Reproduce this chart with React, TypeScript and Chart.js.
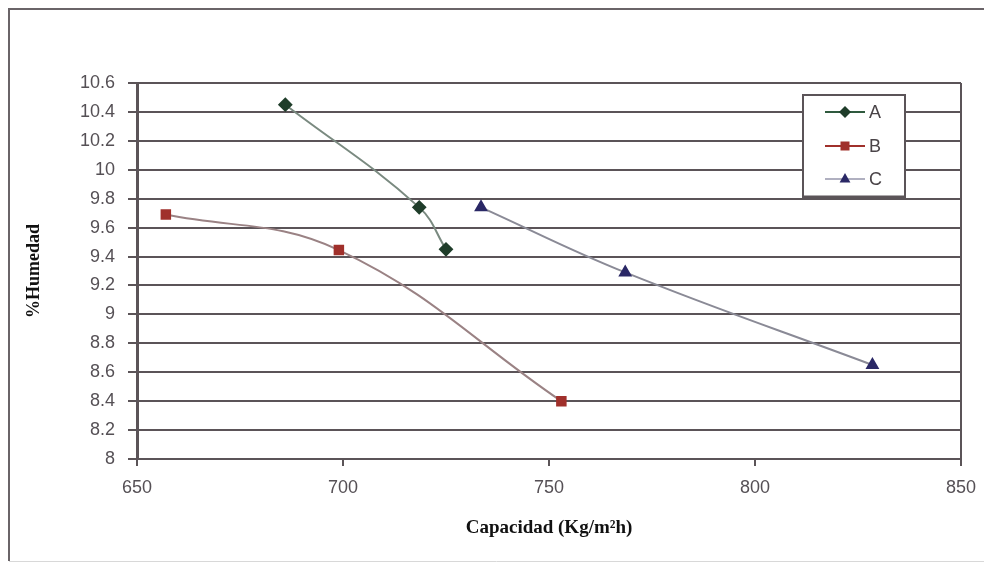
import React, { useEffect, useRef } from "react";
import { Chart, registerables } from "chart.js";

Chart.register(...registerables);

const seriesNames = ["A", "B", "C"];
const aCapacidad = [686, 718.5, 725];
const aHumedad = [10.45, 9.74, 9.45];
const bCapacidad = [657, 699, 753];
const bHumedad = [9.69, 9.445, 8.4];
const cCapacidad = [733.5, 768.5, 828.5];
const cHumedad = [9.74, 9.29, 8.65];
const xTicks = [650, 700, 750, 800, 850];
const yMin = 8;
const yMax = 10.6;
const yStep = 0.2;

const toPoints = (xs: number[], ys: number[]) => xs.map((x, i) => ({ x, y: ys[i] }));

const frameAndLegend = {
  id: "frameAndLegend",
  afterDraw(chart: any) {
    const ctx = chart.ctx;
    const a = chart.chartArea;
    ctx.save();
    // outer frame
    ctx.strokeStyle = "#6a6468";
    ctx.lineWidth = 2;
    ctx.beginPath();
    ctx.moveTo(9, 561);
    ctx.lineTo(9, 9);
    ctx.lineTo(984, 9);
    ctx.stroke();
    ctx.strokeStyle = "#d8d8d8";
    ctx.lineWidth = 1;
    ctx.beginPath();
    ctx.moveTo(9, 561.5);
    ctx.lineTo(984, 561.5);
    ctx.stroke();
    // right border of plot
    ctx.strokeStyle = "#5b5458";
    ctx.lineWidth = 2;
    ctx.beginPath();
    ctx.moveTo(a.right, a.top);
    ctx.lineTo(a.right, a.bottom + 6);
    ctx.stroke();
    // legend box
    const lx = 803, ly = 95, lw = 102, lh = 102;
    ctx.fillStyle = "#ffffff";
    ctx.fillRect(lx, ly, lw, lh);
    ctx.strokeStyle = "#5b5458";
    ctx.lineWidth = 2;
    ctx.strokeRect(lx, ly, lw, lh);
    ctx.lineWidth = 3;
    ctx.beginPath();
    ctx.moveTo(lx, ly + lh);
    ctx.lineTo(lx + lw, ly + lh);
    ctx.stroke();
    const rows = [112, 146, 179];
    chart.data.datasets.forEach((ds: any, i: number) => {
      const y = rows[i];
      ctx.strokeStyle = ds.legendLine;
      ctx.lineWidth = 2;
      ctx.beginPath();
      ctx.moveTo(825, y);
      ctx.lineTo(865, y);
      ctx.stroke();
      ctx.fillStyle = ds.pointBackgroundColor;
      const r = ds.pointRadius;
      ctx.beginPath();
      if (ds.pointStyle === "rectRot") {
        ctx.moveTo(845, y - r);
        ctx.lineTo(845 + r, y);
        ctx.lineTo(845, y + r);
        ctx.lineTo(845 - r, y);
      } else if (ds.pointStyle === "rect") {
        ctx.rect(845 - r * 0.75, y - r * 0.75, r * 1.5, r * 1.5);
      } else {
        ctx.moveTo(845, y - r);
        ctx.lineTo(845 + r * 0.9, y + r * 0.6);
        ctx.lineTo(845 - r * 0.9, y + r * 0.6);
      }
      ctx.closePath();
      ctx.fill();
      ctx.fillStyle = "#4a4448";
      ctx.font = "18px 'Liberation Sans', Arial, sans-serif";
      ctx.textAlign = "left";
      ctx.textBaseline = "middle";
      ctx.fillText(ds.label, 869, y + 1);
    });
    ctx.restore();
  },
};

export default function App() {
  const ref = useRef<HTMLCanvasElement>(null);
  useEffect(() => {
    if (!ref.current) return;
    const chart = new Chart(ref.current, {
      type: "scatter",
      data: {
        datasets: [
          {
            label: seriesNames[0],
            data: toPoints(aCapacidad, aHumedad),
            showLine: true,
            tension: 0.4,
            borderColor: "#7a8a80",
            borderWidth: 2,
            pointStyle: "rectRot",
            pointRadius: 6,
            pointBackgroundColor: "#1f3d2a",
            pointBorderColor: "#1f3d2a",
            legendLine: "#2f5a3e",
          } as any,
          {
            label: seriesNames[1],
            data: toPoints(bCapacidad, bHumedad),
            showLine: true,
            tension: 0.4,
            borderColor: "#9a8284",
            borderWidth: 2,
            pointStyle: "rect",
            pointRadius: 6,
            pointBackgroundColor: "#a0302b",
            pointBorderColor: "#a0302b",
            legendLine: "#a0302b",
          } as any,
          {
            label: seriesNames[2],
            data: toPoints(cCapacidad, cHumedad),
            showLine: true,
            tension: 0.4,
            borderColor: "#8a8a96",
            borderWidth: 2,
            pointStyle: "triangle",
            pointRadius: 6,
            pointBackgroundColor: "#2a2866",
            pointBorderColor: "#2a2866",
            legendLine: "#b0b0c0",
          } as any,
        ],
      },
      options: {
        animation: false,
        responsive: false,
        maintainAspectRatio: false,
        layout: { padding: { left: 0, top: 83, right: 24, bottom: 0 } },
        plugins: { legend: { display: false }, tooltip: { enabled: false } },
        scales: {
          x: {
            type: "linear",
            min: 650,
            max: 850,
            afterBuildTicks: (s: any) => {
              s.ticks = xTicks.map((v) => ({ value: v }));
            },
            afterFit: (s: any) => {
              s.height = 104;
              s.paddingLeft = 0;
              s.paddingRight = 0;
            },
            grid: {
              drawOnChartArea: false,
              drawTicks: true,
              tickLength: 7,
              color: "#5b5458",
              lineWidth: 2,
            },
            border: { display: false },
            ticks: {
              color: "#555055",
              padding: 11,
              font: { family: "'Liberation Sans', Arial, sans-serif", size: 18 },
            },
            title: {
              display: true,
              text: "Capacidad (Kg/m²h)",
              color: "#111111",
              font: { family: "'Liberation Serif', 'Times New Roman', serif", size: 19, weight: "bold" },
              padding: { top: 0, bottom: 24 },
            },
          },
          y: {
            type: "linear",
            min: yMin,
            max: yMax,
            ticks: {
              stepSize: yStep,
              color: "#555055",
              padding: 13,
              font: { family: "'Liberation Sans', Arial, sans-serif", size: 18 },
              callback: (v: any) => String(Math.round(Number(v) * 10) / 10),
            },
            afterFit: (s: any) => {
              s.width = 137;
              s.paddingTop = 0;
              s.paddingBottom = 0;
            },
            grid: {
              color: "#5b5458",
              lineWidth: 2,
              tickLength: 9,
            },
            border: { display: true, color: "#5b5458", width: 3 },
            title: {
              display: true,
              text: "%Humedad",
              color: "#111111",
              font: { family: "'Liberation Serif', 'Times New Roman', serif", size: 18, weight: "bold" },
              padding: { top: 24, bottom: 0 },
            },
          },
        },
      },
      plugins: [frameAndLegend],
    });
    return () => chart.destroy();
  }, []);
  return (
    <div style={{ position: "absolute", left: 0, top: 0, width: 985, height: 563, background: "#fff" }}>
      <canvas ref={ref} width={985} height={563} style={{ display: "block" }} />
    </div>
  );
}
